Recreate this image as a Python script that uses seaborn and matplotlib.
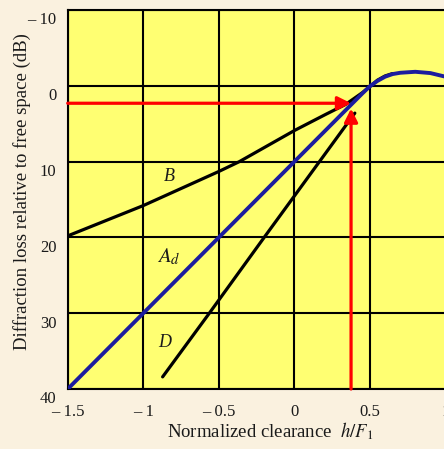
import numpy as np
import pandas as pd
import matplotlib
matplotlib.use("Agg")
import matplotlib.pyplot as plt
import seaborn as sns
from matplotlib.transforms import ScaledTranslation

# ==========================================================
# DATA
# ==========================================================

# Ad : knife-edge loss curve (blue)
ad_x = [-1.5, 0.0, 0.4, 0.45, 0.5, 0.55, 0.6, 0.65, 0.7, 0.8, 0.9, 1.0]
ad_y = [40.0, 10.0, 2.0, 1.0, 0.05, -0.65, -1.2, -1.55, -1.72, -1.85, -1.68, -1.2]

# B : upper black curve
b_x = [-1.5, -1.0, -0.5, -0.364, 0.0, 0.208, 0.34, 0.45, 0.5, 0.55, 0.6, 0.65]
b_y = [19.8, 15.8, 11.3, 10.0, 5.9, 3.76, 2.44, 0.9, 0.1, -0.75, -1.3, -1.62]

# D : lower black line
d_x = [-0.872, -0.563, -0.20, 0.40]
d_y = [38.4, 30.0, 20.0, 3.6]

# red read-off arrows
arrow_x = 0.375
arrow_y = 2.3
arrow_tip_y = 3.0

x_ticks = [-1.5, -1.0, -0.5, 0.0, 0.5, 1.0]
x_ticklabels = ["\u2013 1.5", "\u2013 1", "\u2013 0.5", "0", "0.5", "1"]
y_ticks = [-10, 0, 10, 20, 30, 40]
y_ticklabels = ["\u2013 10", "0", "10", "20", "30", "40"]

# ==========================================================
# STYLE
# ==========================================================

sns.set_style("white")
plt.rcParams["font.family"] = ["Liberation Serif", "DejaVu Serif"]
plt.rcParams["mathtext.fontset"] = "stix"

page_bg = "#FAF1DF"
plot_bg = "#FFFF72"
blue = "#1C1C9E"
text_col = "#1a1a1a"

fig = plt.figure(figsize=(4.44, 4.49), dpi=100)
fig.patch.set_facecolor(page_bg)
ax = fig.add_axes([0.1525, 0.1336, 0.8509, 0.8441])
ax.set_facecolor(plot_bg)

# grid
for gx in x_ticks:
    ax.axvline(gx, color="black", lw=1.5, zorder=1)
for gy in y_ticks:
    ax.axhline(gy, color="black", lw=1.5, zorder=1)

# curves
df_b = pd.DataFrame({"x": b_x, "y": b_y})
df_d = pd.DataFrame({"x": d_x, "y": d_y})
df_ad = pd.DataFrame({"x": ad_x, "y": ad_y})

sns.lineplot(data=df_b, x="x", y="y", color="black", lw=2.3, sort=False,
             estimator=None, ax=ax, zorder=3)
sns.lineplot(data=df_d, x="x", y="y", color="black", lw=2.3, sort=False,
             estimator=None, ax=ax, zorder=3)
sns.lineplot(data=df_ad, x="x", y="y", color=blue, lw=2.8, sort=False,
             estimator=None, ax=ax, zorder=4)

# red arrows
ax.annotate("", xy=(arrow_x, arrow_y), xytext=(x_ticks[0], arrow_y),
            arrowprops=dict(arrowstyle="-|>", color="red", lw=2.3,
                            mutation_scale=20, shrinkA=0, shrinkB=0),
            zorder=5)
ax.annotate("", xy=(arrow_x, arrow_tip_y), xytext=(arrow_x, y_ticks[-1]),
            arrowprops=dict(arrowstyle="-|>", color="red", lw=2.3,
                            mutation_scale=20, shrinkA=0, shrinkB=0),
            zorder=5)

# curve labels
ax.text(-0.83, 11.9, "B", fontsize=13, style="italic", color=text_col,
        ha="center", va="center")
ax.text(-0.83, 22.6, "$A_d$", fontsize=15, color=text_col,
        ha="center", va="center")
ax.text(-0.86, 33.9, "D", fontsize=13, style="italic", color=text_col,
        ha="center", va="center")

# axes
ax.set_xlim(-1.5, 1.0)
ax.set_ylim(40, -10)
ax.set_xticks(x_ticks)
ax.set_xticklabels(x_ticklabels)
ax.set_yticks(y_ticks)
ax.set_yticklabels(y_ticklabels)
ax.tick_params(length=0, labelsize=12, colors=text_col)
ax.tick_params(axis="x", pad=11)
ax.tick_params(axis="y", pad=8)

for lab in ax.get_yticklabels():
    lab.set_transform(lab.get_transform() +
                      ScaledTranslation(0, -6 / 72, fig.dpi_scale_trans))

for s in ax.spines.values():
    s.set_color("black")
    s.set_linewidth(1.5)

ax.set_xlabel("Normalized clearance  $h/F_1$", fontsize=13.5, color=text_col)
ax.xaxis.set_label_coords(0.535, -0.082)
ax.set_ylabel("Diffraction loss relative to free space (dB)", fontsize=13.5,
              color=text_col)
ax.yaxis.set_label_coords(-0.121, 0.522)
ax.yaxis.label.set_va("center")

fig.savefig("out.png", dpi=100, facecolor=page_bg)
